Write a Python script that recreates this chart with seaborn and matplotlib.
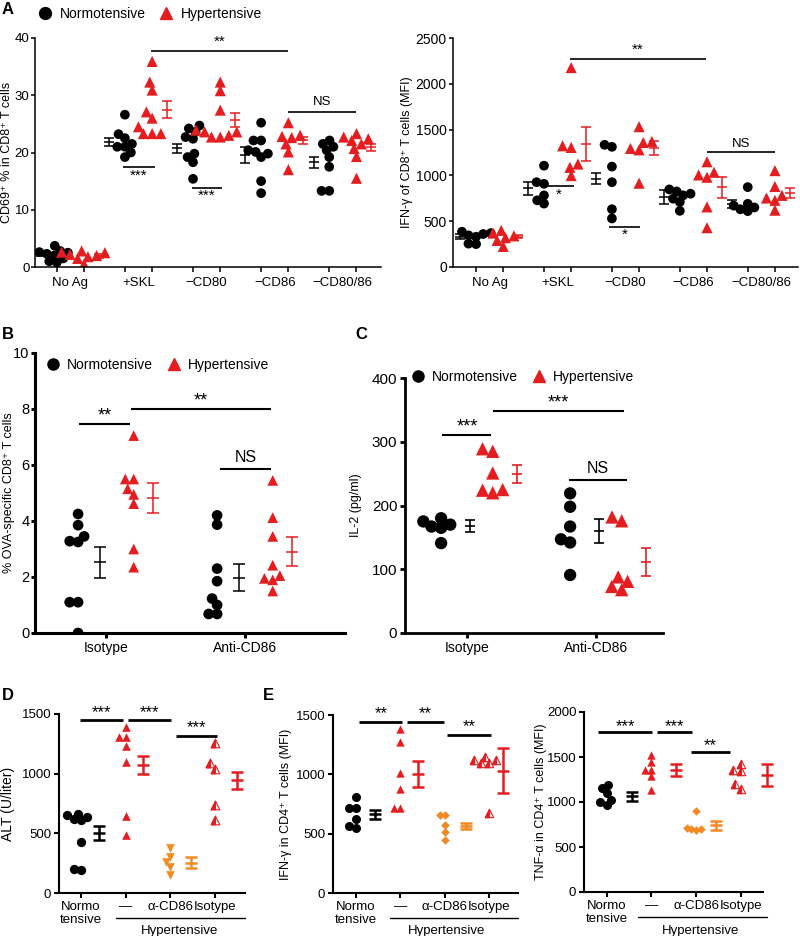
import warnings
warnings.filterwarnings("ignore")
import numpy as np
import pandas as pd
import matplotlib
matplotlib.use("Agg")
import matplotlib.pyplot as plt
from matplotlib.lines import Line2D
from matplotlib.path import Path
from matplotlib.transforms import blended_transform_factory
import seaborn as sns

sns.set_theme(style="ticks")
plt.rcParams['font.family'] = ['Liberation Sans', 'DejaVu Sans']
for k in ['text.color', 'axes.labelcolor', 'xtick.color', 'ytick.color', 'axes.edgecolor']:
    plt.rcParams[k] = 'black'

RED = "#E41E20"
ORANGE = "#F28A24"
BLACK = "#000000"
HUES = ["Normotensive", "Hypertensive"]
PAL = {"Normotensive": BLACK, "Hypertensive": RED}
SUP = "\u207a"

# ---------------- data ----------------
A_conds = ["No Ag", "+SKL", "\u2212CD80", "\u2212CD86", "\u2212CD80/86"]
A1_normo = [[3.7, 2.8, 2.6, 2.5, 2.3, 2.0, 1.5, 1.0, 0.8],
            [26.6, 23.2, 22.5, 21.5, 21.0, 21.0, 20.0, 19.2],
            [24.7, 24.2, 23.6, 22.7, 22.4, 19.8, 19.2, 18.3, 15.4],
            [25.2, 22.1, 22.1, 20.4, 20.1, 19.8, 19.2, 15.0, 12.9],
            [22.1, 21.5, 21.0, 20.4, 19.2, 17.5, 13.3, 13.3]]
A1_hyper = [[2.8, 2.6, 2.5, 2.2, 2.0, 1.8, 1.5, 0.5],
            [35.9, 32.3, 30.9, 27.1, 26.0, 24.5, 23.3, 23.3, 23.3],
            [32.3, 30.8, 27.4, 23.9, 23.6, 23.6, 23.0, 22.7, 22.7],
            [25.2, 23.0, 22.8, 22.6, 21.5, 20.1, 17.0],
            [23.3, 22.7, 22.4, 22.1, 21.5, 20.7, 19.3, 15.5]]
A1_normo_mean = [2.2, 21.8, 20.7, 19.5, 18.3]
A1_normo_sem = [0.35, 0.7, 0.85, 1.4, 1.0]
A1_hyper_mean = [1.9, 27.5, 25.7, 22.1, 20.9]
A1_hyper_sem = [0.3, 1.5, 1.25, 0.65, 0.6]

A2_normo = [[385, 370, 360, 345, 330, 255, 250],
            [1106, 926, 908, 782, 728, 692],
            [1334, 1312, 1096, 926, 631, 530],
            [847, 825, 800, 782, 746, 710, 613],
            [872, 690, 670, 650, 630, 610]]
A2_hyper = [[400, 370, 340, 320, 290, 225],
            [2177, 1323, 1305, 1124, 1088, 998],
            [1532, 1370, 1359, 1294, 1279, 915],
            [1149, 1034, 1005, 980, 656, 429],
            [1052, 879, 782, 753, 728, 620]]
A2_normo_mean = [332, 857, 964, 764, 687]
A2_normo_sem = [25, 75, 63, 79, 48]
A2_hyper_mean = [332, 1344, 1300, 868, 807]
A2_hyper_sem = [20, 184, 78, 112, 54]

BC_conds = ["Isotype", "Anti-CD86"]
B_normo = [[4.25, 3.85, 3.45, 3.28, 3.25, 1.1, 1.1, 0.0],
           [4.2, 3.87, 2.3, 1.85, 1.23, 1.0, 0.68, 0.68]]
B_hyper = [[7.05, 5.5, 5.5, 5.15, 4.95, 4.62, 3.0, 2.35],
           [5.45, 4.12, 3.45, 2.42, 2.05, 1.95, 1.9, 1.5]]
B_normo_mean = [2.53, 1.98]
B_normo_sem = [0.55, 0.48]
B_hyper_mean = [4.82, 2.91]
B_hyper_sem = [0.52, 0.52]

C_normo = [[180, 175, 170, 167, 165, 141],
           [219, 198, 167, 147, 142, 91]]
C_hyper = [[289, 285, 251, 225, 224, 220],
           [182, 176, 88, 81, 73, 68]]
C_normo_mean = [168, 160]
C_normo_sem = [9, 19]
C_hyper_mean = [250, 112]
C_hyper_sem = [14, 22]

DE_groups = ["normo", "hyper", "acd86", "iso"]
DE_labels = ["Normo\ntensive", "\u2014", "\u03b1-CD86", "Isotype"]
D_values = [[665, 650, 640, 620, 610, 430, 205, 195],
            [1390, 1305, 1305, 1235, 1095, 648, 485],
            [380, 305, 260, 220, 150],
            [1260, 1090, 1040, 740, 615]]
D_mean = [505, 1072, 254, 943]
D_sem = [60, 77, 45, 75]

E1_values = [[805, 715, 715, 625, 565, 550],
             [1380, 1270, 1010, 875, 720, 715],
             [660, 660, 575, 510, 445],
             [1150, 1125, 1120, 1095, 1095, 675]]
E1_mean = [662, 1005, 565, 1030]
E1_sem = [40, 110, 25, 190]

E2_values = [[1190, 1155, 1100, 1025, 995, 965],
             [1525, 1440, 1360, 1360, 1285, 1130],
             [905, 715, 705, 695, 690],
             [1425, 1360, 1340, 1195, 1140]]
E2_mean = [1063, 1355, 744, 1298]
E2_sem = [48, 70, 50, 124]

# ---------------- helpers ----------------
fig = plt.figure(figsize=(8, 9.36), dpi=100)
SWARMS = []          # (collection, final marker size)
LAYOUT = 0.75        # swarm layout computed with smaller markers -> overlapping dots like the original


def add_axes(l, r, t, b):
    return fig.add_axes([l / 800, 1 - b / 936, (r - l) / 800, (b - t) / 936])


def style(ax, ylim, yticks, ylabel, spw, fs, lfs, lx, tlen=3.5, tpad=2):
    sns.despine(ax=ax)
    ax.set_ylim(*ylim)
    ax.set_yticks(yticks)
    ax.set_ylabel(ylabel, fontsize=lfs)
    ax.yaxis.set_label_coords(lx, 0.5)
    ax.set_xlabel("")
    for s in ['left', 'bottom']:
        ax.spines[s].set_linewidth(spw)
    ax.tick_params(axis='both', which='both', labelsize=fs, width=spw, length=3.5,
                   direction='out', colors='black', pad=2)
    ax.tick_params(axis='y', length=tlen, pad=tpad)


def ebar(ax, xs, means, sems, color, cap, lw):
    c = ax.errorbar(xs, means, yerr=sems, fmt='_', color=color, ms=2 * cap, mew=lw,
                    elinewidth=lw, capsize=cap, capthick=lw, zorder=3)
    for art in [c[0]] + list(c[1]) + list(c[2]):
        art.set_clip_on(False)


def sig(ax, x1, x2, y, text, ty, lw, fs):
    ax.plot([x1, x2], [y, y], color='black', lw=lw, clip_on=False, solid_capstyle='butt')
    ax.text((x1 + x2) / 2, ty, text, ha='center', va='center', fontsize=fs)


def swarm(ax, size, **kw):
    n0 = len(ax.collections)
    sns.swarmplot(ax=ax, size=size * LAYOUT, **kw)
    for coll in ax.collections[n0:]:
        SWARMS.append((coll, size))


def dodge_panel(ax, conds, normo, hyper, nm, ns, hm, hs, sc, st, off, cap, lw):
    rows = []
    for c, vals in zip(conds, normo):
        rows += [(c, "Normotensive", v) for v in vals]
    for c, vals in zip(conds, hyper):
        rows += [(c, "Hypertensive", v) for v in vals]
    df = pd.DataFrame(rows, columns=["cond", "group", "value"])
    for grp, mk, sz in [("Normotensive", "o", sc), ("Hypertensive", "^", st)]:
        swarm(ax, sz, data=df[df.group == grp], x="cond", y="value", hue="group",
              hue_order=HUES, order=conds, dodge=True, marker=mk, palette=PAL,
              linewidth=0, legend=False, zorder=2)
    pos = np.arange(len(conds))
    ebar(ax, pos + off[0], nm, ns, BLACK, cap, lw)
    ebar(ax, pos + off[1], hm, hs, RED, cap, lw)


HALF = Path([(0, 1), (-1, -1), (0, -1), (0, 1)],
            [Path.MOVETO, Path.LINETO, Path.LINETO, Path.CLOSEPOLY])


def group_panel(ax, values, means, sems, styles, offs, cap, lw):
    rows = [(g, v) for g, vals in zip(DE_groups, values) for v in vals]
    df = pd.DataFrame(rows, columns=["group", "value"])
    for g, (kind, mk, col, sz) in zip(DE_groups, styles):
        sub = df[df.group == g]
        if kind == 'half':
            swarm(ax, sz, data=sub, x="group", y="value", order=DE_groups, marker='^',
                  color='white', edgecolor=col, linewidth=0.8, zorder=2)
            swarm(ax, sz, data=sub, x="group", y="value", order=DE_groups, marker=HALF,
                  color=col, edgecolor=col, linewidth=0.8, zorder=2)
        else:
            swarm(ax, sz, data=sub, x="group", y="value", order=DE_groups, marker=mk,
                  color=col, linewidth=0, zorder=2)
    pos = np.arange(len(DE_groups))
    cols = [s[2] for s in styles]
    for i in range(len(DE_groups)):
        ebar(ax, [pos[i] + offs[i]], [means[i]], [sems[i]], cols[i], cap, lw)


def hyper_bracket(ax, x1, x2, xt):
    tr = blended_transform_factory(ax.transData, ax.transAxes)
    ax.plot([x1, x2], [-0.14, -0.14], color='black', lw=1.0, transform=tr, clip_on=False)
    ax.text(xt, -0.215, "Hypertensive", transform=tr, ha='center', va='center', fontsize=9.5)


def cat_xaxis_dodge(ax, conds, xlim, fs):
    n = len(conds)
    ax.set_xlim(*xlim)
    ax.set_xticks(np.arange(n))
    ax.set_xticklabels(conds, fontsize=fs)
    ax.set_xticks(np.concatenate([np.arange(n) - 0.2, np.arange(n) + 0.2]), minor=True)
    ax.tick_params(axis='x', which='major', length=0, pad=7)


def de_xaxis(ax, xlim, fs):
    ax.set_xlim(*xlim)
    ax.set_xticks(np.arange(4))
    ax.set_xticklabels(DE_labels, fontsize=fs, linespacing=1.15, va='top')


def legend_at(x0, y, fs, ms_c, ms_t, tpad, cspace):
    hs = [Line2D([], [], marker='o', color=BLACK, ls='', ms=ms_c),
          Line2D([], [], marker='^', color=RED, ls='', ms=ms_t)]
    fig.legend(hs, HUES, loc='center left', bbox_to_anchor=(x0 / 800, 1 - y / 936),
               ncol=2, frameon=False, fontsize=fs, handlelength=1.0,
               handletextpad=tpad, columnspacing=cspace, borderpad=0, borderaxespad=0)


# ---------------- panel A ----------------
axA1 = add_axes(35, 381, 38, 267)
dodge_panel(axA1, A_conds, A1_normo, A1_hyper, A1_normo_mean, A1_normo_sem,
            A1_hyper_mean, A1_hyper_sem, 7.0, 8.0, (-0.43, 0.42), 3.6, 1.1)
style(axA1, (0, 40), [0, 10, 20, 30, 40], f"CD69{SUP} % in CD8{SUP} T cells", 1.1, 9.5, 9,
      -0.063, tlen=3, tpad=1)
cat_xaxis_dodge(axA1, A_conds, (-0.52, 4.56), 9.5)
sig(axA1, 1.18, 3.2, 37.7, "**", 39.3, 1.2, 11)
sig(axA1, 3.2, 4.2, 27.1, "NS", 28.8, 1.2, 9.5)
sig(axA1, 0.77, 1.24, 17.5, "***", 16.0, 1.2, 11)
sig(axA1, 1.78, 2.23, 13.8, "***", 12.4, 1.2, 11)

axA2 = add_axes(453, 798, 38, 267)
dodge_panel(axA2, A_conds, A2_normo, A2_hyper, A2_normo_mean, A2_normo_sem,
            A2_hyper_mean, A2_hyper_sem, 7.0, 8.0, (-0.43, 0.42), 3.6, 1.1)
style(axA2, (0, 2500), [0, 500, 1000, 1500, 2000, 2500],
      f"IFN-\u03b3 of CD8{SUP} T cells (MFI)", 1.1, 10, 9, -0.116, tlen=3, tpad=1.5)
cat_xaxis_dodge(axA2, A_conds, (-0.54, 4.54), 9.5)
sig(axA2, 1.18, 3.18, 2267, "**", 2370, 1.2, 11)
sig(axA2, 3.2, 4.2, 1258, "NS", 1345, 1.2, 9.5)
sig(axA2, 0.79, 1.24, 879, "*", 790, 1.2, 11)
sig(axA2, 1.76, 2.21, 440, "*", 350, 1.2, 11)

legend_at(38, 14, 10, 8.5, 9, 0.55, 1.0)

# ---------------- panel B ----------------
axB = add_axes(35, 345, 353, 633)
dodge_panel(axB, BC_conds, B_normo, B_hyper, B_normo_mean, B_normo_sem,
            B_hyper_mean, B_hyper_sem, 7.7, 7.7, (-0.04, 0.34), 4.2, 1.1)
style(axB, (0, 10), [0, 2, 4, 6, 8, 10], f"% OVA-specific CD8{SUP} T cells", 2.2, 10.5, 9,
      -0.066, tlen=3, tpad=1)
axB.set_xlim(-0.51, 1.72)
axB.set_xticks([0, 1])
axB.set_xticklabels(BC_conds, fontsize=10)
sig(axB, -0.19, 0.17, 7.45, "**", 7.75, 1.5, 13)
sig(axB, 0.18, 1.19, 8.0, "**", 8.3, 1.5, 13)
sig(axB, 0.82, 1.19, 5.85, "NS", 6.25, 1.5, 11.5)
legend_at(46, 365, 10, 8, 8.5, 0.5, 1.0)

# ---------------- panel C ----------------
axC = add_axes(405, 663, 378, 633)
dodge_panel(axC, BC_conds, C_normo, C_hyper, C_normo_mean, C_normo_sem,
            C_hyper_mean, C_hyper_sem, 8.9, 9.6, (0.02, 0.39), 3.6, 1.2)
style(axC, (0, 400), [0, 100, 200, 300, 400], "IL-2 (pg/ml)", 2.0, 11, 9, -0.167)
axC.set_xlim(-0.48, 1.52)
axC.set_xticks([0, 1])
axC.set_xticklabels(BC_conds, fontsize=10)
sig(axC, -0.19, 0.19, 311, "***", 323, 1.5, 13)
sig(axC, 0.2, 1.22, 348, "***", 361, 1.5, 13)
sig(axC, 0.79, 1.24, 240, "NS", 258, 1.5, 11.5)
legend_at(411, 377, 10, 8, 8.5, 0.5, 1.0)

# ---------------- panel D ----------------
styles_D = [('full', 'o', BLACK, 6.7), ('full', '^', RED, 6.2),
            ('full', 'v', ORANGE, 6.2), ('half', None, RED, 6.2)]
axD = add_axes(59, 245, 714, 893)
group_panel(axD, D_values, D_mean, D_sem, styles_D, [0.4, 0.38, 0.47, 0.5], 4.2, 1.8)
style(axD, (0, 1500), [0, 500, 1000, 1500], "ALT (U/liter)", 1.5, 9.5, 10, -0.237)
de_xaxis(axD, (-0.49, 3.67), 9.5)
sig(axD, -0.02, 0.94, 1447, "***", 1510, 2.0, 12)
sig(axD, 1.05, 2.01, 1447, "***", 1510, 2.0, 12)
sig(axD, 2.13, 3.04, 1318, "***", 1385, 2.0, 12)
hyper_bracket(axD, 0.78, 3.67, 2.2)

# ---------------- panel E ----------------
styles_E = [('full', 'o', BLACK, 6.5), ('full', '^', RED, 6.0),
            ('full', 'D', ORANGE, 4.4), ('half', None, RED, 6.0)]
axE1 = add_axes(333, 518, 715, 893)
group_panel(axE1, E1_values, E1_mean, E1_sem, styles_E, [0.43, 0.41, 0.49, 0.32], 4.2, 1.8)
style(axE1, (0, 1500), [0, 500, 1000, 1500], f"IFN-\u03b3 in CD4{SUP} T cells (MFI)", 1.5, 9.5, 9, -0.222)
de_xaxis(axE1, (-0.52, 3.66), 9.5)
sig(axE1, 0.07, 1.05, 1444, "**", 1510, 2.0, 12)
sig(axE1, 1.15, 1.99, 1444, "**", 1510, 2.0, 12)
sig(axE1, 2.05, 3.05, 1332, "**", 1400, 2.0, 12)
hyper_bracket(axE1, 0.77, 3.66, 2.05)

axE2 = add_axes(584, 763, 712, 892)
group_panel(axE2, E2_values, E2_mean, E2_sem, styles_E, [0.57, 0.54, 0.45, 0.58], 4.2, 1.8)
style(axE2, (0, 2000), [0, 500, 1000, 1500, 2000], f"TNF-\u03b1 in CD4{SUP} T cells (MFI)", 1.5, 9.5, 9, -0.207)
de_xaxis(axE2, (-0.51, 3.5), 9.5)
sig(axE2, -0.19, 1.01, 1774, "***", 1840, 2.0, 12)
sig(axE2, 1.12, 1.9, 1774, "***", 1840, 2.0, 12)
sig(axE2, 1.89, 2.75, 1552, "**", 1630, 2.0, 12)
hyper_bracket(axE2, 0.7, 3.59, 2.1)

# ---------------- panel letters ----------------
for letter, x, y in [("A", 2, 9), ("B", 2, 334), ("C", 355, 334), ("D", 2, 695), ("E", 263, 695)]:
    fig.text(x / 800, 1 - y / 936, letter, fontsize=12, fontweight='bold', ha='left', va='center')

# lay out the swarms with compact markers, then freeze positions and show full-size markers
fig.canvas.draw()
for coll, size in SWARMS:
    if 'draw' in coll.__dict__:
        del coll.draw
    coll.set_sizes([size ** 2])

fig.savefig("out.png", dpi=100)
